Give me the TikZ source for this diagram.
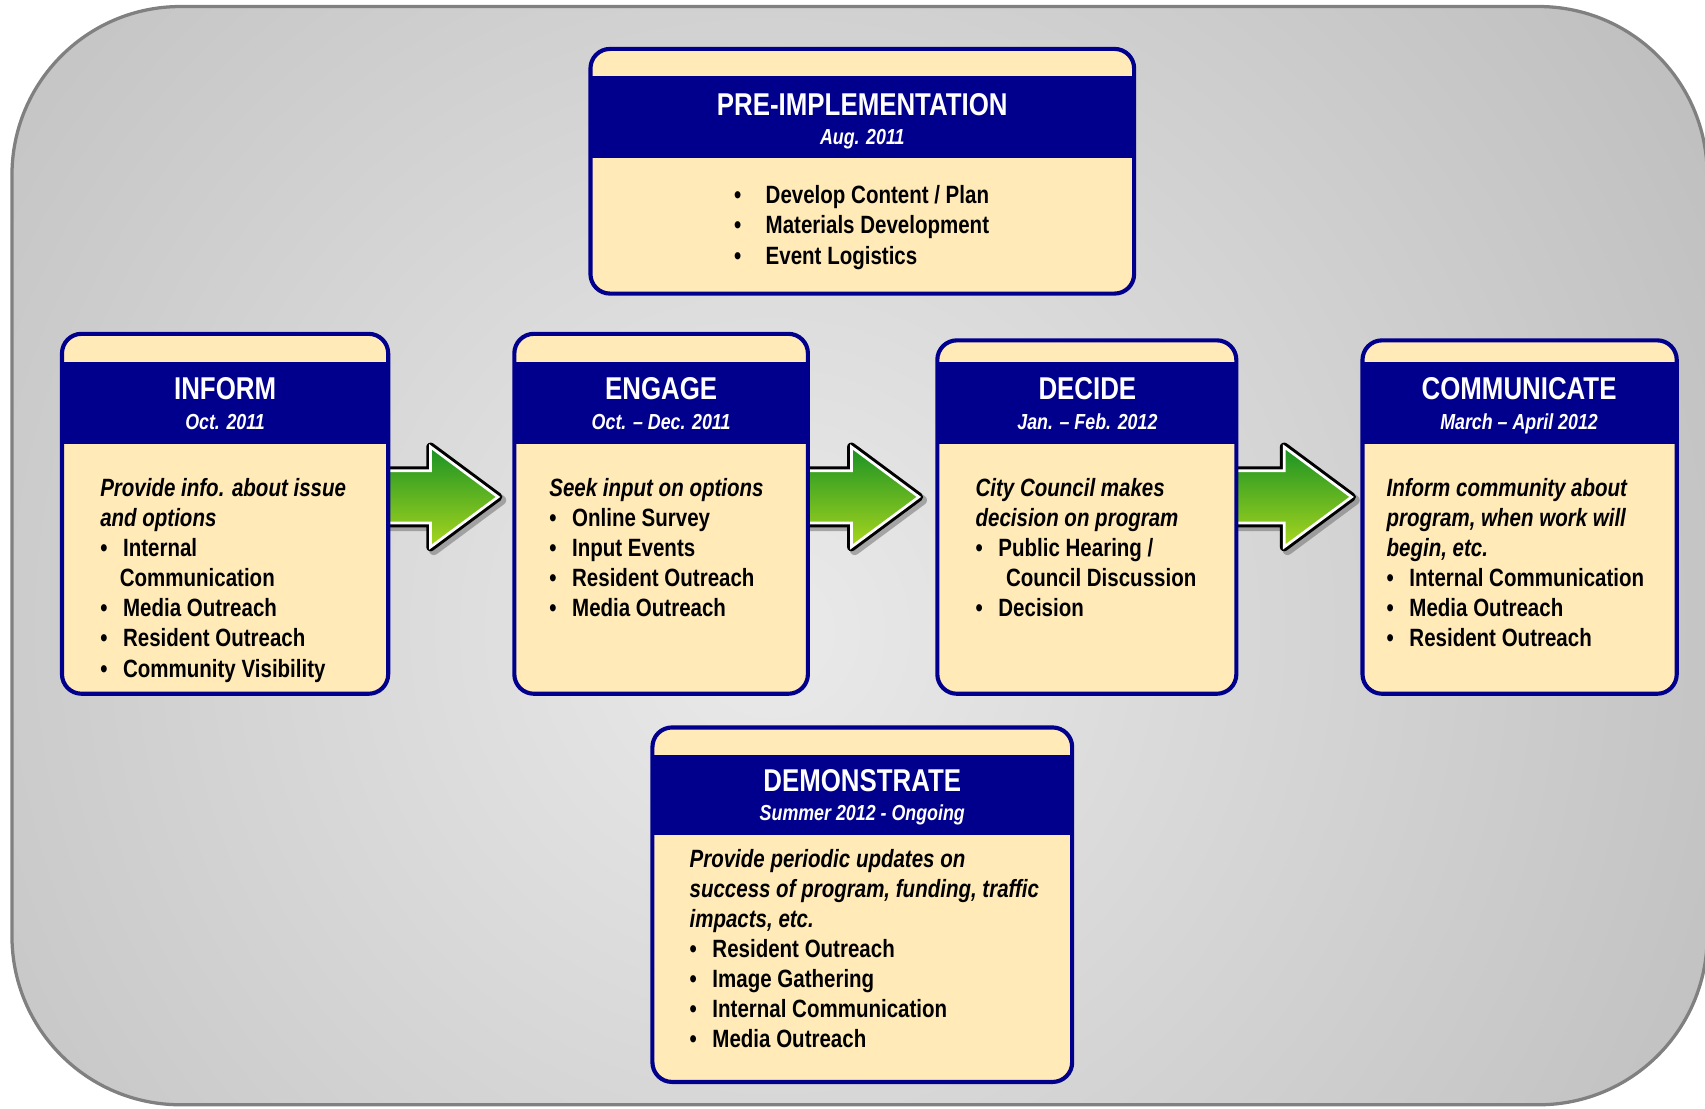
\documentclass[tikz,border=0pt]{standalone}
\usepackage{fontspec}
\setmainfont{Liberation Sans}[FakeStretch=0.82]
\definecolor{navy}{HTML}{00008C}
\definecolor{cream}{HTML}{FFEAB8}
\definecolor{bgout}{HTML}{B8B8B8}
\definecolor{bgin}{HTML}{EAEAEA}
\definecolor{framegray}{HTML}{808080}
\definecolor{gdark}{HTML}{1A9224}
\definecolor{glight}{HTML}{A8D61E}
\newcommand\bl{\makebox[21pt][l]{\textbullet}}
\newcommand\stagebox[6]{%
  \fill[cream, rounded corners=18pt] (#1,#2) rectangle (#3,#4);
  \fill[navy] (#1,#5) rectangle (#3,#6);
  \draw[boxframe] (#1,#2) rectangle (#3,#4);}
\newcommand\greenarrow[1]{%
  \begin{scope}[xshift=#1pt]
  \draw[black!60, line width=9pt, line join=round, opacity=0.5] (352,436) -- (399,436) -- (399,414) -- (461,460) -- (399,506) -- (399,484) -- (352,484) -- cycle;
  \draw[black, line width=8pt, line join=round] (350,433) -- (396,433) -- (396,411) -- (458,457) -- (396,503) -- (396,481) -- (350,481) -- cycle;
  \shade[top color=gdark, bottom color=glight] (350,433) -- (396,433) -- (396,411) -- (458,457) -- (396,503) -- (396,481) -- (350,481) -- cycle;
  \draw[white, line width=2.5pt] (350,433) -- (396,433) -- (396,411) -- (458,457) -- (396,503) -- (396,481) -- (350,481) -- cycle;
  \end{scope}}
\tikzset{
  boxframe/.style={draw=navy, line width=3.8pt, rounded corners=18pt},
  title/.style={anchor=base, text=white, inner sep=0pt, font=\bfseries\fontsize{29}{34}\selectfont},
  subtitle/.style={anchor=base, text=white, inner sep=0pt, font=\bfseries\itshape\fontsize{20}{24}\selectfont},
  body/.style={anchor=base west, inner sep=0pt, text=black, font=\bfseries\fontsize{23}{27.6}\selectfont},
}
\begin{document}
\begin{tikzpicture}[x=1pt,y=-1pt]
\useasboundingbox (0,0) rectangle (1568,1019);
% background
\begin{scope}
  \clip[rounded corners=155pt] (11,6) rectangle (1570,1016);
  \fill[bgout] (0,0) rectangle (1568,1019);
  \shade[inner color=bgin, outer color=bgout] (710,580) circle (1150pt);
\end{scope}
\draw[framegray, line width=3pt, rounded corners=155pt] (11,6) rectangle (1570,1016);
% arrows
\greenarrow{0}
\greenarrow{387}
\greenarrow{785}
% boxes
\stagebox{543}{45}{1043}{270}{70}{145}
\stagebox{57}{307}{357}{638}{333}{408}
\stagebox{473}{307}{743}{638}{333}{408}
\stagebox{862}{313}{1137}{638}{333}{408}
\stagebox{1253}{313}{1542}{638}{333}{408}
\stagebox{600}{669}{986}{995}{694}{768}
% titles
\node[title] (pret) at (793,106.5) {PRE-IMPLEMENTATION};
\node[subtitle] (pres) at (793,133) {Aug. 2011};
\node[title] (inft) at (207,367.5) {INFORM};
\node[subtitle] (infs) at (207,395) {Oct. 2011};
\node[title] (engt) at (608,367.5) {ENGAGE};
\node[subtitle] (engs) at (608,395) {Oct. – Dec. 2011};
\node[title] (dect) at (1000,367.5) {DECIDE};
\node[subtitle] (decs) at (1000,395) {Jan. – Feb. 2012};
\node[title] (comt) at (1397,367.5) {COMMUNICATE};
\node[subtitle] (coms) at (1397,395) {March – April 2012};
\node[title] (demt) at (793,727.5) {DEMONSTRATE};
\node[subtitle] (dems) at (793,755) {Summer 2012 - Ongoing};
% bodies
\node[body] (preb) at (675,187) {\parbox[t]{400pt}{\raggedright\setlength\baselineskip{28pt}%
\makebox[29pt][l]{\textbullet}Develop Content / Plan\\
\makebox[29pt][l]{\textbullet}Materials Development\\
\makebox[29pt][l]{\textbullet}Event Logistics}};
\node[body] (infb) at (92,457) {\parbox[t]{400pt}{\raggedright
\textit{Provide info. about issue}\\
\textit{and options}\\
\bl Internal\\
\hspace*{18pt}Communication\\
\bl Media Outreach\\
\bl Resident Outreach\\
\bl Community Visibility}};
\node[body] (engb) at (505,457) {\parbox[t]{400pt}{\raggedright
\textit{Seek input on options}\\
\bl Online Survey\\
\bl Input Events\\
\bl Resident Outreach\\
\bl Media Outreach}};
\node[body] (decb) at (897,457) {\parbox[t]{400pt}{\raggedright
\textit{City Council makes}\\
\textit{decision on program}\\
\bl Public Hearing /\\
\hspace*{28pt}Council Discussion\\
\bl Decision}};
\node[body] (comb) at (1275,457) {\parbox[t]{400pt}{\raggedright
\textit{Inform community about}\\
\textit{program, when work will}\\
\textit{begin, etc.}\\
\bl Internal Communication\\
\bl Media Outreach\\
\bl Resident Outreach}};
\node[body] (demb) at (634,798) {\parbox[t]{400pt}{\raggedright
\textit{Provide periodic updates on}\\
\textit{success of program, funding, traffic}\\
\textit{impacts, etc.}\\
\bl Resident Outreach\\
\bl Image Gathering\\
\bl Internal Communication\\
\bl Media Outreach}};
\end{tikzpicture}
\end{document}
